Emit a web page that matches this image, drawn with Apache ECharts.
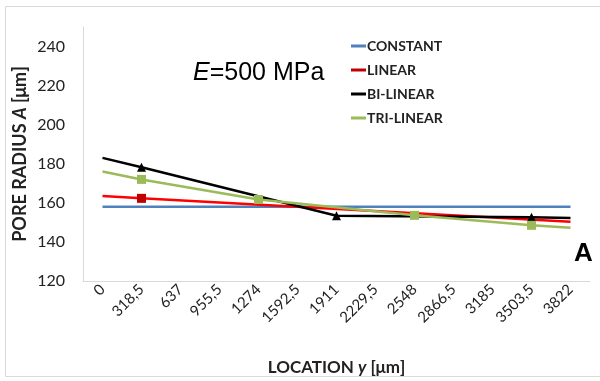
<!DOCTYPE html>
<html>
<head>
<meta charset="utf-8">
<script src="https://cdn.jsdelivr.net/npm/echarts@6/dist/echarts.min.js"></script>
<style>
  html, body { margin: 0; padding: 0; background: #fff; }
  #chart { width: 600px; height: 381px; }
</style>
</head>
<body>
<div id="chart"></div>
<script>
// locations along y (category axis labels, as printed)
const locations = ['0', '318,5', '637', '955,5', '1274', '1592,5', '1911', '2229,5', '2548', '2866,5', '3185', '3503,5', '3822']
const yTicks = [120, 140, 160, 180, 200, 220, 240]

// pore radius A [um] (null = no point there)
const constant = [158, null, null, null, null, null, null, null, null, null, null, null, 158]
const linear = [163.5, 162.3, null, null, null, null, null, null, null, null, null, null, 150.3]
const biLinear = [183, 178.2, null, null, null, null, 153.4, null, null, null, null, 152.6, 152.3]
const triLinear = [176, 172, null, null, 161.7, null, null, null, 153.6, null, null, 148.5, 147.2]

// which points carry a marker
const linearMarks = [1]
const biLinearMarks = [1, 6, 11]
const triLinearMarks = [1, 4, 8, 11]

const withMarks = (vals, marks) => vals.map((v, i) => (
  v === null ? null : {value: v, symbol: marks.includes(i) ? undefined : 'none'}
))

const chart = echarts.init(document.getElementById('chart'))

const fontLabel = 'Lato, "Open Sans", sans-serif'

chart.setOption({
  animation: false,
  title: {
    text: '{i|E}=500 MPa',
    left: 188,
    top: 56,
    textStyle: {
      fontFamily: '"Liberation Sans", Arial, sans-serif',
      fontSize: 25,
      fontWeight: 'normal',
      color: '#000',
      rich: {
        i: {fontFamily: '"Liberation Sans", Arial, sans-serif', fontSize: 25, fontStyle: 'italic', color: '#000'}
      }
    }
  },
  legend: {
    orient: 'vertical',
    left: 346,
    top: 34,
    itemWidth: 15,
    itemHeight: 3,
    itemGap: 10,
    icon: 'rect',
    textStyle: {fontFamily: fontLabel, fontSize: 14, fontWeight: 'bold', color: '#222', lineHeight: 14, padding: [0, 0, 0, -4]},
    data: ['CONSTANT', 'LINEAR', 'BI-LINEAR', 'TRI-LINEAR']
  },
  grid: {left: 83, right: 10, top: 27, bottom: 97},
  xAxis: {
    type: 'category',
    data: locations,
    boundaryGap: true,
    name: 'LOCATION {i|y} [\u03bcm]',
    nameLocation: 'middle',
    nameGap: 78,
    nameTextStyle: {
      fontFamily: fontLabel, fontSize: 17, fontWeight: 'bold', color: '#222',
      rich: {i: {fontFamily: fontLabel, fontSize: 17, fontWeight: 'bold', fontStyle: 'italic', color: '#222'}}
    },
    axisLine: {lineStyle: {color: '#d9d9d9', width: 1}},
    axisTick: {show: false},
    axisLabel: {rotate: 45, margin: 6, interval: 0, fontFamily: fontLabel, fontSize: 15, color: '#222'}
  },
  yAxis: {
    type: 'value',
    min: yTicks[0],
    max: 250,
    interval: 20,
    name: 'PORE RADIUS {i|A} [\u03bcm]',
    nameLocation: 'middle',
    nameGap: 54,
    nameMoveOverlap: false,
    nameTextStyle: {
      fontFamily: fontLabel, fontSize: 18, fontWeight: 'bold', color: '#222',
      rich: {i: {fontFamily: fontLabel, fontSize: 18, fontWeight: 'bold', fontStyle: 'italic', color: '#222'}}
    },
    axisLine: {show: true, lineStyle: {color: '#d9d9d9', width: 1}},
    axisTick: {show: false},
    splitLine: {show: false},
    axisLabel: {showMaxLabel: false, margin: 18, fontFamily: fontLabel, fontSize: 16, color: '#222'}
  },
  graphic: [
    {
      type: 'rect',
      shape: {x: 5.5, y: 6.5, width: 600, height: 370},
      style: {fill: 'none', stroke: '#d9d9d9', lineWidth: 1},
      silent: true
    },
    {
      type: 'text',
      left: 574,
      top: 241,
      style: {text: 'A', fontFamily: '"Liberation Sans", Arial, sans-serif', fontSize: 26, fontWeight: 'bold', fill: '#000'}
    }
  ],
  series: [
    {
      name: 'CONSTANT', type: 'line', data: constant, connectNulls: true,
      symbol: 'none', color: '#4f81bd', lineStyle: {width: 2.5}
    },
    {
      name: 'LINEAR', type: 'line', data: withMarks(linear, linearMarks), connectNulls: true,
      symbol: 'rect', symbolSize: 9, showAllSymbol: true, color: '#ff0000',
      itemStyle: {color: '#c00000'}, lineStyle: {width: 2.5, color: '#ff0000'}
    },
    {
      name: 'BI-LINEAR', type: 'line', data: withMarks(biLinear, biLinearMarks), connectNulls: true,
      symbol: 'triangle', symbolSize: 9, showAllSymbol: true, color: '#000',
      lineStyle: {width: 2.5}
    },
    {
      name: 'TRI-LINEAR', type: 'line', data: withMarks(triLinear, triLinearMarks), connectNulls: true,
      symbol: 'rect', symbolSize: 9, showAllSymbol: true, color: '#9bbb59',
      lineStyle: {width: 2.5}
    }
  ]
})
</script>
</body>
</html>
